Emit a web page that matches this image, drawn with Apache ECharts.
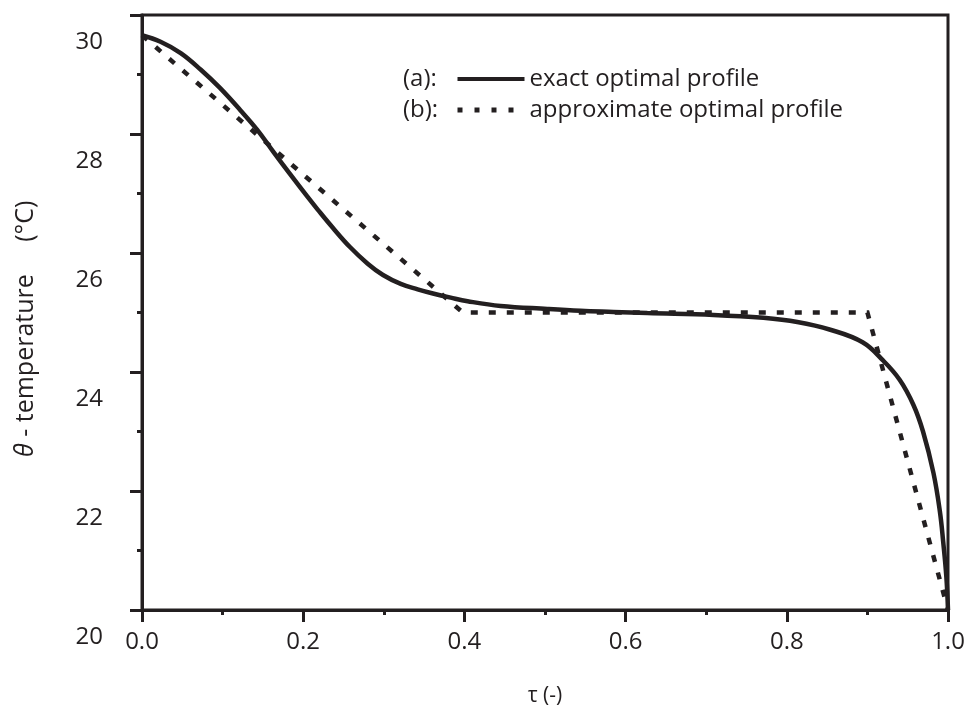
<!DOCTYPE html>
<html>
<head>
<meta charset="utf-8">
<script src="https://cdn.jsdelivr.net/npm/echarts@6/dist/echarts.min.js"></script>
<style>
  html, body { margin: 0; padding: 0; background: #ffffff; }
  #chart { width: 964px; height: 712px; }
</style>
</head>
<body>
<div id="chart"></div>
<script>
// ---- data ----
var exactTau = [0, 0.023, 0.048, 0.073, 0.097, 0.122, 0.143, 0.163, 0.184, 0.205, 0.218, 0.237, 0.258, 0.280, 0.299, 0.321, 0.342, 0.361, 0.383, 0.404, 0.445, 0.503, 0.544, 0.585, 0.627, 0.709, 0.771, 0.813, 0.854, 0.894, 0.919, 0.940, 0.957, 0.969, 0.982, 0.990, 0.994, 0.998, 1.0];
var exactTheta = [29.66, 29.55, 29.36, 29.08, 28.77, 28.40, 28.07, 27.70, 27.32, 26.95, 26.73, 26.42, 26.10, 25.82, 25.63, 25.48, 25.39, 25.32, 25.25, 25.19, 25.11, 25.06, 25.03, 25.01, 24.99, 24.96, 24.91, 24.84, 24.71, 24.50, 24.20, 23.87, 23.45, 23.00, 22.30, 21.65, 21.15, 20.55, 20.0];
var approxTau = [0, 0.398, 0.9, 1.0];
var approxTheta = [29.66, 25.0, 25.0, 20.0];
var seriesNames = ['exact optimal profile', 'approximate optimal profile'];
var seriesTags = ['(a):', '(b):'];
var xTicks = [0, 0.2, 0.4, 0.6, 0.8, 1.0];
var yTicks = [20, 22, 24, 26, 28, 30];

var INK = '#231f20';
var FONT = 'Open Sans';

function pairs(xs, ys) { return xs.map(function (x, i) { return [x, ys[i]]; }); }

var chart = echarts.init(document.getElementById('chart'), null, { renderer: 'canvas' });
chart.setOption({
  animation: false,
  backgroundColor: '#ffffff',
  grid: {
    left: 142, right: 16, top: 15, bottom: 102,
    show: true, borderColor: INK, borderWidth: 3, backgroundColor: 'transparent',
    containLabel: false, outerBoundsMode: 'none'
  },
  legend: {
    show: true,
    orient: 'vertical',
    left: 455, top: 67,
    itemWidth: 67, itemHeight: 14, itemGap: 7,
    padding: 0,
    textStyle: { fontFamily: FONT, fontSize: 24, color: INK, lineHeight: 24 },
    itemStyle: { opacity: 0, color: 'transparent', borderWidth: 0 },
    lineStyle: { width: 4 },
    data: [
      { name: seriesNames[0], itemStyle: { opacity: 0, color: 'transparent', borderWidth: 0 }, lineStyle: { width: 4, type: 'solid', color: INK } },
      { name: seriesNames[1], itemStyle: { opacity: 0, color: 'transparent', borderWidth: 0 }, lineStyle: { width: 5, type: [5, 12], color: INK } }
    ]
  },
  graphic: [
    { type: 'text', x: 403, y: 79, style: { text: seriesTags[0], font: '24px "Open Sans"', fill: INK, verticalAlign: 'middle' } },
    { type: 'text', x: 403, y: 110, style: { text: seriesTags[1], font: '24px "Open Sans"', fill: INK, verticalAlign: 'middle' } }
  ],
  xAxis: {
    type: 'value', min: 0, max: 1, interval: 0.2,
    name: 'τ (-)', nameLocation: 'middle', nameGap: 76,
    nameTextStyle: { fontFamily: FONT, fontSize: 21, color: INK },
    axisLine: { show: true, onZero: false, lineStyle: { color: INK, width: 3 } },
    axisTick: { show: true, inside: false, length: 12, lineStyle: { color: INK, width: 3 } },
    minorTick: { show: true, splitNumber: 2, length: 5, lineStyle: { color: INK, width: 3 } },
    splitLine: { show: false }, minorSplitLine: { show: false },
    axisLabel: {
      show: true, margin: 20, fontFamily: FONT, fontSize: 24, color: INK,
      showMinLabel: true, showMaxLabel: true,
      formatter: function (v) { return v.toFixed(1); }
    }
  },
  yAxis: {
    type: 'value', min: 20, max: 30, interval: 2,
    name: '{i|θ}{n| - temperature     (°C)     }', nameLocation: 'middle', nameGap: 104, nameRotate: 90,
    nameTextStyle: {
      fontFamily: FONT, fontSize: 25, color: INK,
      rich: {
        i: { fontFamily: FONT, fontSize: 25, fontStyle: 'italic', color: INK },
        n: { fontFamily: FONT, fontSize: 25, color: INK }
      }
    },
    axisLine: { show: true, onZero: false, lineStyle: { color: INK, width: 3 } },
    axisTick: { show: true, inside: false, length: 12, lineStyle: { color: INK, width: 3 } },
    minorTick: { show: true, splitNumber: 2, length: 5, lineStyle: { color: INK, width: 3 } },
    splitLine: { show: false }, minorSplitLine: { show: false },
    axisLabel: {
      show: true, margin: 39, fontFamily: FONT, fontSize: 24, color: INK,
      showMinLabel: true, showMaxLabel: true,
      lineHeight: 54,
      formatter: function (v) { return '\n' + String(v); }
    }
  },
  series: [
    {
      name: seriesNames[0], type: 'line', data: pairs(exactTau, exactTheta),
      symbol: 'none', showSymbol: false, smooth: 0.4, clip: false,
      lineStyle: { color: INK, width: 4.5, type: 'solid' },
      itemStyle: { color: INK }, z: 3
    },
    {
      name: seriesNames[1], type: 'line', data: pairs(approxTau, approxTheta),
      symbol: 'none', showSymbol: false, smooth: false, clip: false,
      lineStyle: { color: INK, width: 4.5, type: [7, 11], cap: 'butt', join: 'miter' },
      itemStyle: { color: INK }, z: 2
    }
  ]
});
</script>
</body>
</html>
